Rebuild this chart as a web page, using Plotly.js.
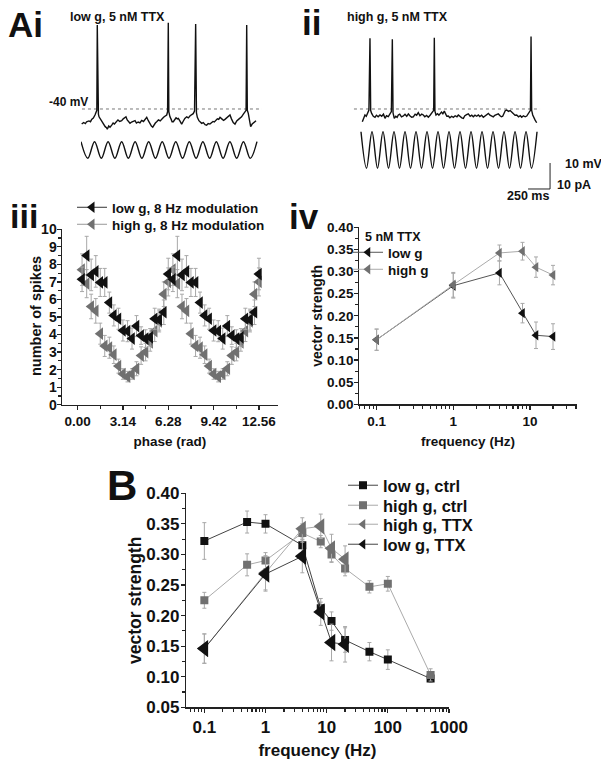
<!DOCTYPE html>
<html><head><meta charset="utf-8">
<script src="https://cdn.plot.ly/plotly-3.0.1.min.js"></script>
<style>html,body{margin:0;padding:0;background:#fff}</style>
</head><body><div id="chart" style="width:601px;height:765px"></div>
<script>
// ---------- Panel Ai / ii : traces (time in ms, membrane potential in mV, current in pA)
const aiT = [8, 30, 50, 64, 90, 108, 121, 140, 159, 172, 180, 185, 190, 198, 205, 225, 240, 253, 275, 290, 299, 315, 330, 349, 365, 380, 406, 420, 440, 462, 480, 495, 511, 525, 540, 557, 575, 595, 614, 630, 650, 670, 690, 710, 730, 747, 765, 785, 800, 815, 830, 845, 860, 880, 900, 915, 928, 945, 960, 974, 984, 992, 998, 1005, 1011, 1025, 1035, 1049, 1065, 1080, 1095, 1106, 1120, 1135, 1144, 1160, 1180, 1201, 1220, 1240, 1258, 1275, 1290, 1303, 1312, 1322, 1340, 1355, 1371, 1390, 1410, 1428, 1445, 1465, 1485, 1500, 1515, 1534, 1550, 1565, 1580, 1600, 1620, 1636, 1655, 1675, 1693, 1710, 1730, 1750, 1770, 1790, 1807, 1825, 1845, 1860, 1876, 1883, 1890, 1901, 1915, 1928, 1945, 1958, 1975, 1989];
const aiV = [-45.8, -45.2, -45.6, -44.9, -44.6, -44.9, -44.0, -43.5, -42.3, -41.5, -40.5, -7.7, -40.5, -42.0, -43.0, -44.2, -45.0, -45.5, -46.8, -47.2, -47.8, -46.5, -47.0, -46.2, -45.4, -45.8, -44.9, -44.2, -44.8, -44.5, -43.8, -43.4, -43.0, -44.2, -44.8, -45.5, -45.0, -44.7, -44.5, -45.4, -45.0, -45.3, -44.4, -44.8, -43.8, -43.2, -44.5, -45.8, -46.6, -47.0, -46.0, -45.4, -44.9, -44.2, -44.6, -43.8, -43.6, -43.0, -42.6, -42.3, -41.0, -6.8, -41.0, -42.5, -43.0, -44.0, -44.9, -44.9, -44.0, -43.4, -43.8, -43.6, -44.4, -45.5, -45.8, -44.8, -43.6, -43.0, -43.4, -42.6, -42.3, -41.8, -40.8, -7.3, -41.5, -43.2, -44.5, -45.0, -45.5, -45.2, -46.0, -46.2, -45.6, -45.8, -45.3, -44.8, -45.0, -44.2, -43.8, -44.0, -43.2, -43.8, -44.4, -44.0, -43.4, -43.0, -42.3, -43.8, -45.2, -45.8, -44.6, -44.0, -43.6, -43.0, -42.0, -41.2, -40.5, -7.7, -40.5, -41.7, -44.0, -46.8, -45.8, -45.3, -44.6, -44.5];
const iiT = [15, 30, 45, 60, 75, 90, 102, 110, 121, 140, 159, 175, 195, 216, 235, 255, 273, 290, 310, 330, 345, 356, 364, 378, 395, 410, 424, 440, 460, 481, 500, 520, 538, 555, 575, 594, 615, 632, 651, 670, 690, 708, 725, 745, 765, 785, 800, 815, 826, 833, 840, 852, 870, 885, 898, 915, 930, 947, 960, 975, 992, 1010, 1030, 1049, 1070, 1090, 1106, 1125, 1145, 1163, 1180, 1200, 1219, 1240, 1258, 1276, 1295, 1315, 1333, 1350, 1370, 1390, 1410, 1430, 1447, 1465, 1485, 1503, 1520, 1540, 1560, 1580, 1595, 1610, 1625, 1640, 1656, 1675, 1695, 1712, 1730, 1750, 1769, 1790, 1810, 1826, 1845, 1865, 1883, 1900, 1913, 1925, 1932, 1939, 1951, 1965, 1977, 1996];
const iiV = [-44.9, -43.5, -42.3, -42.8, -41.5, -40.4, -12.8, -40.6, -41.7, -42.8, -43.2, -42.4, -43.0, -42.3, -42.8, -42.0, -43.6, -42.6, -42.9, -41.7, -41.0, -13.2, -41.5, -43.6, -42.8, -43.2, -42.3, -42.0, -43.0, -42.7, -42.0, -42.8, -41.9, -42.6, -43.2, -43.0, -42.0, -42.4, -41.4, -42.6, -42.0, -42.3, -43.0, -42.5, -43.2, -42.4, -41.6, -41.0, -40.5, -12.6, -40.8, -42.3, -41.8, -42.4, -41.7, -41.2, -41.8, -40.8, -41.8, -42.8, -42.7, -43.4, -42.8, -43.2, -42.6, -43.0, -42.3, -43.0, -43.4, -43.6, -42.6, -42.2, -41.9, -42.8, -42.4, -43.0, -42.4, -42.8, -42.3, -42.9, -42.4, -43.2, -42.6, -42.0, -41.7, -42.4, -42.8, -43.0, -42.4, -42.0, -41.9, -42.6, -43.0, -42.8, -41.8, -40.6, -40.4, -40.9, -40.6, -41.2, -41.8, -42.4, -42.3, -43.0, -42.6, -43.2, -42.6, -43.0, -42.7, -41.8, -41.0, -40.5, -12.1, -40.5, -42.3, -43.5, -44.2, -45.3];
// injected current: peaks / troughs of the sinusoidal command
const aiSineT = [0, 77, 154, 231, 308, 385, 462, 538, 615, 692, 769, 846, 923, 1000, 1077, 1154, 1231, 1308, 1385, 1462, 1538, 1615, 1692, 1769, 1846, 1923, 2000];
const aiSineI = [3.2, -3.2, 3.2, -3.2, 3.2, -3.2, 3.2, -3.2, 3.2, -3.2, 3.2, -3.2, 3.2, -3.2, 3.2, -3.2, 3.2, -3.2, 3.2, -3.2, 3.2, -3.2, 3.2, -3.2, 3.2, -3.2, 3.2];
const iiSineT = [0, 62.5, 125, 187.5, 250, 312.5, 375, 437.5, 500, 562.5, 625, 687.5, 750, 812.5, 875, 937.5, 1000, 1062.5, 1125, 1187.5, 1250, 1312.5, 1375, 1437.5, 1500, 1562.5, 1625, 1687.5, 1750, 1812.5, 1875, 1937.5, 2000];
const iiSineI = [7, -7, 7, -7, 7, -7, 7, -7, 7, -7, 7, -7, 7, -7, 7, -7, 7, -7, 7, -7, 7, -7, 7, -7, 7, -7, 7, -7, 7, -7, 7, -7, 7];
const aiRefT = [11, 2057], iiRefT = [-80, 2034], refV = [-40, -40];
const scaleT = [1898, 2148, 2148], scaleI = [-15, -15, -5];

// ---------- Panel iii : spikes vs phase
const phaseIII = [0.31, 0.63, 0.94, 1.26, 1.57, 1.88, 2.20, 2.51, 2.83, 3.14, 3.46, 3.77, 4.08, 4.40, 4.71, 5.03, 5.34, 5.65, 5.97, 6.28,
                  6.60, 6.91, 7.23, 7.54, 7.85, 8.17, 8.48, 8.80, 9.11, 9.42, 9.74, 10.05, 10.37, 10.68, 11.00, 11.31, 11.62, 11.94, 12.25, 12.56];
const lowG8Hz = [7.15, 8.5, 7.4, 7.6, 6.97, 6.97, 5.82, 5.09, 4.9, 4.23, 4.19, 3.77, 4.48, 3.94, 3.77, 3.84, 4.9, 4.85, 5.27, 7.45,
                 7.15, 8.5, 7.4, 7.6, 6.97, 6.97, 5.82, 5.09, 4.9, 4.23, 4.19, 3.77, 4.48, 3.94, 3.77, 3.84, 4.9, 4.85, 5.27, 7.45];
const lowG8HzErr = [0.7, 1.1, 0.9, 0.9, 0.8, 0.8, 0.6, 0.6, 0.6, 0.6, 0.6, 0.6, 0.6, 0.5, 0.5, 0.5, 0.6, 0.6, 0.7, 0.9,
                    0.7, 1.1, 0.9, 0.9, 0.8, 0.8, 0.6, 0.6, 0.6, 0.6, 0.6, 0.6, 0.6, 0.5, 0.5, 0.5, 0.6, 0.6, 0.7, 0.9];
const highG8Hz = [7.7, 6.9, 5.6, 5.35, 4.05, 3.35, 3.25, 2.85, 2.2, 1.75, 1.6, 1.75, 2.05, 2.8, 3.0, 3.55, 4.2, 4.75, 6.3, 7.0,
                  7.7, 6.9, 5.6, 5.35, 4.05, 3.35, 3.25, 2.85, 2.2, 1.75, 1.6, 1.75, 2.05, 2.8, 3.0, 3.55, 4.2, 4.75, 6.3, 7.0];
const highG8HzErr = [0.9, 0.8, 0.7, 0.7, 0.6, 0.6, 0.6, 0.5, 0.4, 0.3, 0.3, 0.3, 0.4, 0.5, 0.5, 0.5, 0.6, 0.6, 0.7, 0.8,
                     0.9, 0.8, 0.7, 0.7, 0.6, 0.6, 0.6, 0.5, 0.4, 0.3, 0.3, 0.3, 0.4, 0.5, 0.5, 0.5, 0.6, 0.6, 0.7, 0.8];
const phaseTickVals = [0, 3.14, 6.28, 9.42, 12.56];
const phaseTickText = ['0.00', '3.14', '6.28', '9.42', '12.56'];

// ---------- Panel iv / B : vector strength vs frequency (5 nM TTX)
const ttxFreq = [0.1, 1, 4, 8, 12, 20];
const ttxLowG = [0.146, 0.268, 0.297, 0.206, 0.156, 0.153];
const ttxLowGErr = [0.024, 0.028, 0.027, 0.022, 0.030, 0.029];
const ttxHighG = [0.146, 0.270, 0.342, 0.346, 0.310, 0.292];
const ttxHighGErr = [0.024, 0.028, 0.018, 0.020, 0.023, 0.022];

// ---------- Panel B : control
const ctrlFreq = [0.1, 0.5, 1, 4, 8, 12, 20, 50, 100, 500];
const ctrlLowG = [0.322, 0.353, 0.350, 0.315, 0.212, 0.191, 0.160, 0.141, 0.128, 0.097];
const ctrlLowGErr = [0.030, 0.018, 0.015, 0.012, 0.010, 0.015, 0.020, 0.015, 0.016, 0.006];
const ctrlHighG = [0.225, 0.283, 0.290, 0.335, 0.321, 0.300, 0.277, 0.247, 0.252, 0.103];
const ctrlHighGErr = [0.013, 0.018, 0.013, 0.015, 0.010, 0.012, 0.012, 0.010, 0.012, 0.010];

const freqTickVals = [0.1, 1, 10, 100, 1000];
const freqTickText = ['0.1', '1', '10', '100', '1000'];
const logMinor = [0.06,0.07,0.08,0.09,0.2,0.3,0.4,0.5,0.6,0.7,0.8,0.9,2,3,4,5,6,7,8,9,20,30,40,50,60,70,80,90,200,300,400,500,600,700,800,900];

// ---------- layout helpers (pixel -> paper)
const W = 601, H = 765;
const hx = (a, b) => [a / W, b / W];
const vy = (top, bottom) => [1 - bottom / H, 1 - top / H];
const FONT = 'Liberation Sans, Arial, sans-serif';
const BLACK = '#111111', GRAY = '#707070', ERR = '#a8a8a8';

function axisStyle(extra, fs) {
  return Object.assign({
    showline: true, linecolor: '#222', linewidth: 1.2, mirror: false,
    ticks: 'outside', ticklen: 4, tickwidth: 1.2, tickcolor: '#222',
    showgrid: false, zeroline: false, fixedrange: true,
    tickfont: {family: FONT, size: fs, color: '#111', weight: 'bold'}
  }, extra);
}
function hidden(extra) {
  return Object.assign({visible: false, showgrid: false, zeroline: false, fixedrange: true}, extra);
}
function errs(arr) {
  return {type: 'data', array: arr, visible: true, color: ERR, thickness: 1, width: 2};
}
function legendItem(name, legendId, xa, ya, lineColor, symbol, size, color) {
  return {x: [null], y: [null], xaxis: xa, yaxis: ya, mode: 'lines+markers', name: name, legend: legendId,
          line: {color: lineColor, width: 1}, marker: {symbol: symbol, size: size, color: color}};
}

const traces = [
  // Ai
  {x: aiRefT, y: refV, xaxis: 'x4', yaxis: 'y4', mode: 'lines', line: {color: '#777', width: 1, dash: 'dot'}, showlegend: false, hoverinfo: 'skip'},
  {x: aiT, y: aiV, xaxis: 'x4', yaxis: 'y4', mode: 'lines', line: {color: '#111', width: 1.4}, showlegend: false},
  {x: aiSineT, y: aiSineI, xaxis: 'x4', yaxis: 'y5', mode: 'lines', line: {color: '#111', width: 1.4, shape: 'spline', smoothing: 1}, showlegend: false},
  // ii
  {x: iiRefT, y: refV, xaxis: 'x6', yaxis: 'y6', mode: 'lines', line: {color: '#777', width: 1, dash: 'dot'}, showlegend: false, hoverinfo: 'skip'},
  {x: iiT, y: iiV, xaxis: 'x6', yaxis: 'y6', mode: 'lines', line: {color: '#111', width: 1.4}, showlegend: false},
  {x: iiSineT, y: iiSineI, xaxis: 'x6', yaxis: 'y7', mode: 'lines', line: {color: '#111', width: 1.4, shape: 'spline', smoothing: 1}, showlegend: false},
  {x: scaleT, y: scaleI, xaxis: 'x6', yaxis: 'y7', mode: 'lines', line: {color: '#222', width: 1}, showlegend: false},

  // iii
  {x: phaseIII, y: highG8Hz, xaxis: 'x', yaxis: 'y', mode: 'markers', marker: {symbol: 'triangle-left', size: 11, color: GRAY}, error_y: errs(highG8HzErr), showlegend: false},
  {x: phaseIII, y: lowG8Hz, xaxis: 'x', yaxis: 'y', mode: 'markers', marker: {symbol: 'triangle-left', size: 11, color: BLACK}, error_y: errs(lowG8HzErr), showlegend: false},
  legendItem('low g, 8 Hz modulation', 'legend', 'x', 'y', '#333', 'triangle-left', 10, BLACK),
  legendItem('high g, 8 Hz modulation', 'legend2', 'x', 'y', '#999', 'triangle-left', 10, GRAY),

  // iv
  {x: ttxFreq, y: ttxLowG, xaxis: 'x2', yaxis: 'y2', mode: 'lines+markers', line: {color: '#555', width: 1}, marker: {symbol: 'triangle-left', size: 9, color: BLACK}, error_y: errs(ttxLowGErr), showlegend: false},
  {x: ttxFreq, y: ttxHighG, xaxis: 'x2', yaxis: 'y2', mode: 'lines+markers', line: {color: '#aaa', width: 1}, marker: {symbol: 'triangle-left', size: 9, color: GRAY}, error_y: errs(ttxHighGErr), showlegend: false},
  legendItem('low g', 'legend3', 'x2', 'y2', '#555', 'triangle-left', 9, BLACK),
  legendItem('high g', 'legend4', 'x2', 'y2', '#aaa', 'triangle-left', 9, GRAY),

  // B
  {x: ctrlFreq, y: ctrlLowG, xaxis: 'x3', yaxis: 'y3', mode: 'lines+markers', line: {color: '#444', width: 1}, marker: {symbol: 'square', size: 8, color: BLACK}, error_y: errs(ctrlLowGErr), showlegend: false},
  {x: ctrlFreq, y: ctrlHighG, xaxis: 'x3', yaxis: 'y3', mode: 'lines+markers', line: {color: '#aaa', width: 1}, marker: {symbol: 'square', size: 8, color: GRAY}, error_y: errs(ctrlHighGErr), showlegend: false},
  {x: ttxFreq, y: ttxHighG, xaxis: 'x3', yaxis: 'y3', mode: 'lines+markers', line: {color: '#aaa', width: 1}, marker: {symbol: 'triangle-left', size: 14, color: GRAY}, error_y: errs(ttxHighGErr), showlegend: false},
  {x: ttxFreq, y: ttxLowG, xaxis: 'x3', yaxis: 'y3', mode: 'lines+markers', line: {color: '#444', width: 1}, marker: {symbol: 'triangle-left', size: 15, color: BLACK}, error_y: errs(ttxLowGErr), showlegend: false},
  legendItem('low g, ctrl', 'legend5', 'x3', 'y3', '#444', 'square', 8, BLACK),
  legendItem('high g, ctrl', 'legend6', 'x3', 'y3', '#aaa', 'square', 8, GRAY),
  legendItem('high g, TTX', 'legend7', 'x3', 'y3', '#aaa', 'triangle-left', 9, GRAY),
  legendItem('low g, TTX', 'legend8', 'x3', 'y3', '#444', 'triangle-left', 9, BLACK)
];

function ttl(text, size, standoff) {
  return {text: text, font: {family: FONT, size: size, color: '#111', weight: 'bold'}, standoff: standoff};
}
function legendBox(xpx, ypx, size) {
  return {x: xpx / W, y: 1 - ypx / H, xanchor: 'left', yanchor: 'top', bgcolor: 'rgba(0,0,0,0)', borderwidth: 0,
          font: {family: FONT, size: size, color: '#111', weight: 'bold'}, tracegroupgap: 0, itemwidth: 30, itemclick: false};
}
function note(text, xpx, ypx, size, xanchor, angle) {
  return {text: text, x: xpx / W, y: 1 - ypx / H, xref: 'paper', yref: 'paper', showarrow: false, textangle: angle || 0,
          xanchor: xanchor || 'left', yanchor: 'middle', font: {family: FONT, size: size, color: '#111', weight: 'bold'}};
}

const layout = {
  width: W, height: H, margin: {l: 0, r: 0, t: 0, b: 0},
  paper_bgcolor: '#fff', plot_bgcolor: 'rgba(0,0,0,0)', showlegend: true,
  font: {family: FONT, color: '#111'},
  // iii
  xaxis: axisStyle({domain: hx(61.7, 278), range: [-1.1, 13.88], anchor: 'y', tickmode: 'array', tickvals: phaseTickVals, ticktext: phaseTickText,
                    minor: {ticks: 'outside', ticklen: 3, dtick: 1.57, tick0: 0, tickcolor: '#222'}, title: ttl('phase (rad)', 13.5, 8)}, 13.5),
  yaxis: axisStyle({domain: vy(229.3, 404.7), range: [0, 10], anchor: 'x', dtick: 1, tick0: 0, ticklabelstandoff: -3,
                    minor: {ticks: 'outside', ticklen: 3, dtick: 0.5, tickcolor: '#222'}}, 14),
  // iv
  xaxis2: axisStyle({domain: hx(359.3, 576.7), type: 'log', range: [-1.226, 1.61], anchor: 'y2', tickmode: 'array', tickvals: freqTickVals, ticktext: freqTickText,
                     minor: {ticks: 'outside', ticklen: 3, tickvals: logMinor, tickcolor: '#222'}, title: ttl('frequency (Hz)', 13.5, 8)}, 13.5),
  yaxis2: axisStyle({domain: vy(227.3, 404.3), range: [0, 0.4], anchor: 'x2', dtick: 0.05, tick0: 0, tickformat: '.2f', ticklabelstandoff: -2,
                     minor: {ticks: 'outside', ticklen: 3, dtick: 0.025, tickcolor: '#222'}, title: ttl('vector strength', 14, 1)}, 13.5),
  // B
  xaxis3: axisStyle({domain: hx(186, 449), type: 'log', range: [-1.3, 3], anchor: 'y3', tickmode: 'array', tickvals: freqTickVals, ticktext: freqTickText,
                     minor: {ticks: 'outside', ticklen: 3, tickvals: logMinor, tickcolor: '#222'}, title: ttl('frequency (Hz)', 17, 8)}, 17),
  yaxis3: axisStyle({domain: vy(493.3, 707.3), range: [0.05, 0.40], anchor: 'x3', dtick: 0.05, tick0: 0.05, tickformat: '.2f', ticklabelstandoff: -2,
                     minor: {ticks: 'outside', ticklen: 3, dtick: 0.025, tickcolor: '#222'}, title: ttl('vector strength', 17.5, 0)}, 17),
  // Ai traces
  xaxis4: hidden({domain: hx(81, 265), range: [0, 2091], anchor: 'y4'}),
  yaxis4: hidden({domain: vy(10, 132), range: [-48.85, -1.92], anchor: 'x4'}),
  yaxis5: hidden({domain: vy(132, 170), range: [-7.69, 6.92], anchor: 'x4'}),
  // ii traces
  xaxis6: hidden({domain: hx(350, 560), range: [-125, 2261], anchor: 'y6'}),
  yaxis6: hidden({domain: vy(10, 132), range: [-48.85, -1.92], anchor: 'x6'}),
  yaxis7: hidden({domain: vy(125, 195), range: [-17.31, 9.615], anchor: 'x6'}),
  legend: legendBox(72, 192, 13.5),
  legend2: legendBox(72, 209, 13.5),
  legend3: legendBox(348, 237, 13.5),
  legend4: legendBox(348, 254, 13.5),
  legend5: legendBox(343, 468, 16.5),
  legend6: legendBox(343, 488, 16.5),
  legend7: legendBox(343, 507, 16.5),
  legend8: legendBox(343, 527, 16.5),
  annotations: [
    note('Ai', 6, 24, 35), note('ii', 300, 22, 35), note('iii', 8, 216, 34), note('iv', 287, 216, 35), note('B', 105, 485, 42),
    note('low g, 5 nM TTX', 68, 17, 12.5), note('high g, 5 nM TTX', 345, 17, 12.5), note('-40 mV', 47, 102, 12),
    note('10 mV', 563, 164, 12.5), note('10 pA', 555, 185, 12.5), note('250 ms', 527.5, 196, 12.5, 'center'),
    note('5 nM TTX', 363, 237, 12.5),
    note('number of spikes', 36, 316, 14.5, 'center', -90)
  ]
};

Plotly.newPlot('chart', traces, layout, {displayModeBar: false, staticPlot: true});
</script></body></html>
